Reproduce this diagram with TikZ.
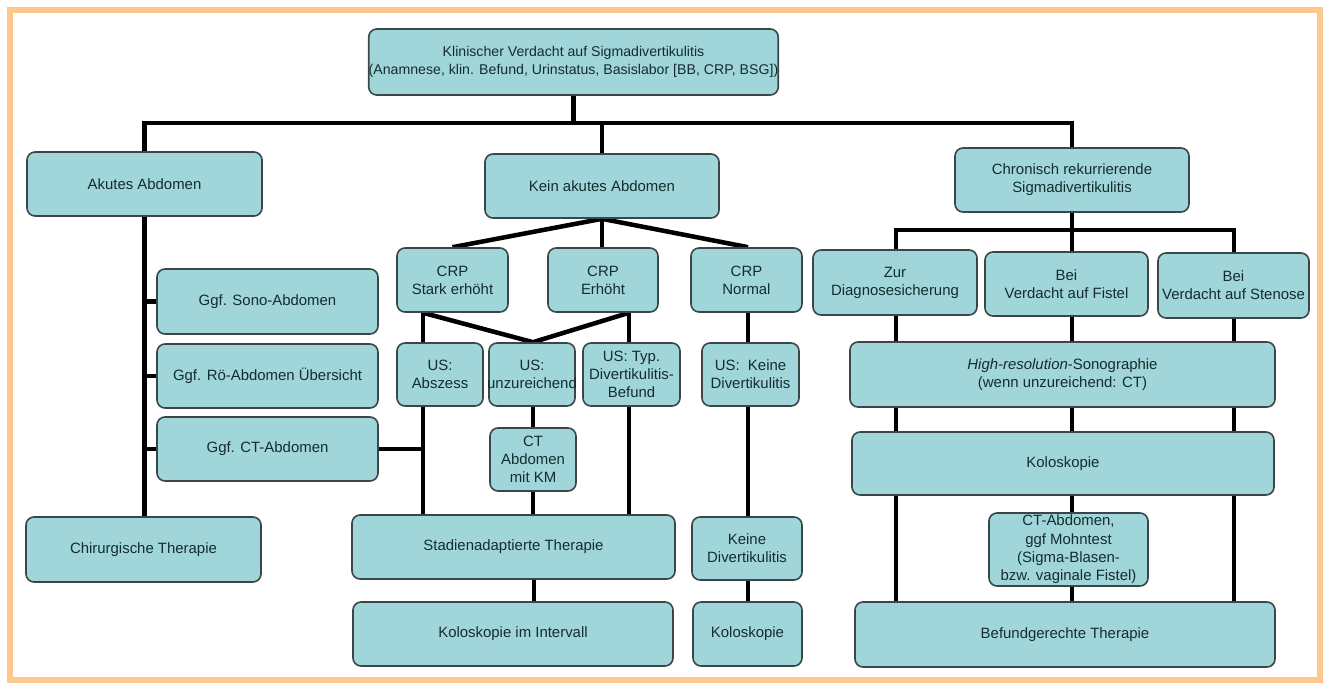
\documentclass[tikz,border=0pt]{standalone}
\usepackage{fontspec}
\setmainfont{Liberation Sans}
\usetikzlibrary{backgrounds}
\definecolor{boxfill}{HTML}{A0D6DA}
\definecolor{boxline}{HTML}{3A4648}
\definecolor{boxtext}{HTML}{142C2E}
\definecolor{frameor}{HTML}{FCC88C}
\newcommand\mybox[7]{%
  \node[box, minimum width={(#4-#2)*0.75pt}, minimum height={(#5-#3)*0.75pt}, #6]
    (#1) at ({(#2+#4)/2},{(#3+#5)/2}) {#7};}
\begin{document}
\begin{tikzpicture}[x=0.75pt,y=-0.75pt,
  box/.style={draw=boxline, line width=1.2pt, fill=boxfill, rounded corners=6pt,
    inner sep=0pt, align=center, text=boxtext, font=\fontsize{11.2}{13.6}\selectfont},
  conn/.style={line width=3.4pt, black, line join=miter}]
\useasboundingbox (0,0) rectangle (1325,683);
\draw[frameor, line width=4.5pt] (10,10) rectangle (1320,680);

% named coordinates for buses and line columns
\coordinate (busL) at (0,123);
\coordinate (lx) at (423,0);
\coordinate (ux) at (533,0);
\coordinate (tx) at (629,0);
\coordinate (nx) at (748,0);
\coordinate (sx) at (534,0);
\coordinate (rbusL) at (896,230);
\coordinate (rbusR) at (1234,230);

% nodes
\mybox{top}{370}{29}{777}{95}{font=\fontsize{10.6}{14}\selectfont}
  {Klinischer Verdacht auf Sigmadivertikulitis\\(Anamnese, klin. Befund, Urinstatus, Basislabor [BB, CRP, BSG])}
\mybox{akut}{27}{152}{262}{216}{}{Akutes Abdomen}
\mybox{kein}{485}{154}{719}{218}{}{Kein akutes Abdomen}
\mybox{chron}{955}{148}{1189}{212}{}{Chronisch rekurrierende\\Sigmadivertikulitis}
\mybox{sono}{157}{269}{378}{334}{}{Ggf. Sono-Abdomen}
\mybox{roe}{157}{344}{378}{408}{}{Ggf. Rö-Abdomen Übersicht}
\mybox{ctg}{157}{417}{378}{481}{}{Ggf. CT-Abdomen}
\mybox{chir}{26}{517}{261}{582}{}{Chirurgische Therapie}
\mybox{crps}{397}{248}{508}{312}{}{CRP\\Stark erhöht}
\mybox{crpe}{548}{248}{658}{312}{}{CRP\\Erhöht}
\mybox{crpn}{691}{248}{802}{312}{}{CRP\\Normal}
\mybox{usa}{397}{343}{483}{406}{}{US:\\Abszess}
\mybox{usu}{489}{343}{575}{406}{}{US:\\\makebox[0pt][c]{unzureichend}}
\mybox{ust}{583}{343}{680}{406}{}{US: Typ.\\Divertikulitis-\\Befund}
\mybox{usk}{702}{343}{799}{406}{}{US:\ \ Keine\\Divertikulitis}
\mybox{ctkm}{490}{428}{576}{491}{}{CT\\Abdomen\\mit KM}
\mybox{stad}{352}{515}{675}{579}{}{Stadienadaptierte Therapie}
\mybox{kolint}{353}{602}{673}{666}{}{Koloskopie im Intervall}
\mybox{keine}{692}{517}{802}{580}{}{Keine\\Divertikulitis}
\mybox{kolo2}{693}{602}{802}{666}{}{Koloskopie}
\mybox{zur}{813}{250}{977}{315}{}{Zur\\Diagnosesicherung}
\mybox{fistel}{985}{252}{1148}{316}{}{Bei\\Verdacht auf Fistel}
\mybox{sten}{1158}{253}{1309}{318}{}{Bei\\Verdacht auf Stenose}
\mybox{hires}{850}{342}{1275}{407}{}{\textit{High-resolution}-Sonographie\\(wenn unzureichend: CT)}
\mybox{kolo3}{852}{432}{1274}{495}{}{Koloskopie}
\mybox{ctab}{989}{513}{1148}{586}{font=\fontsize{11.2}{13.8}\selectfont}
  {CT-Abdomen,\\ggf Mohntest\\(Sigma-Blasen-\\bzw. vaginale Fistel)}
\mybox{befund}{855}{602}{1275}{667}{}{Befundgerechte Therapie}

% connectors
\begin{scope}[on background layer]
\draw[conn] (top.south) -- (top.south |- busL);
\draw[conn] (akut.north) -- (akut.north |- busL) -- (chron.north |- busL) -- (chron.north);
\draw[conn] (kein.north) -- (kein.north |- busL);
\draw[conn] (akut.south) -- (akut.south |- chir.north);
\foreach \n in {sono,roe,ctg} \draw[conn] (\n.west) -- (\n.west -| akut.south);
\draw[conn] (ctg.east) -- (ctg.east -| lx);
\draw[conn] (crps.south -| lx) -- (usa.north -| lx);
\draw[conn] (usa.south -| lx) -- (stad.north -| lx);
\draw[conn] (crps.south -| lx) -- (usu.north -| ux) -- (crpe.south -| tx);
\draw[conn] (crpe.south -| tx) -- (ust.north -| tx);
\draw[conn] (ust.south -| tx) -- (stad.north -| tx);
\draw[conn] (usu.south -| ux) -- (ctkm.north -| ux);
\draw[conn] (ctkm.south -| ux) -- (stad.north -| ux);
\draw[conn] (stad.south -| sx) -- (kolint.north -| sx);
\draw[conn] (kein.south) -- (crps.north);
\draw[conn] (kein.south) -- (crpe.north -| kein.south);
\draw[conn] (kein.south) -- (crpn.north -| nx);
\draw[conn] (crpn.south -| nx) -- (usk.north -| nx);
\draw[conn] (usk.south -| nx) -- (keine.north -| nx);
\draw[conn] (keine.south -| nx) -- (kolo2.north -| nx);
\draw[conn] (chron.south) -- (fistel.north -| chron.south);
\draw[conn] (zur.north -| rbusL) -- (rbusL) -- (rbusR) -- (sten.north -| rbusR);
\draw[conn] (zur.south -| rbusL) -- (hires.north -| rbusL);
\draw[conn] (fistel.south -| chron.south) -- (hires.north -| chron.south);
\draw[conn] (sten.south -| rbusR) -- (hires.north -| rbusR);
\draw[conn] (hires.south -| rbusL) -- (kolo3.north -| rbusL);
\draw[conn] (hires.south -| chron.south) -- (kolo3.north -| chron.south);
\draw[conn] (hires.south -| rbusR) -- (kolo3.north -| rbusR);
\draw[conn] (kolo3.south -| rbusL) -- (befund.north -| rbusL);
\draw[conn] (kolo3.south -| rbusR) -- (befund.north -| rbusR);
\draw[conn] (kolo3.south -| chron.south) -- (ctab.north -| chron.south);
\draw[conn] (ctab.south -| chron.south) -- (befund.north -| chron.south);
\end{scope}
\end{tikzpicture}
\end{document}
